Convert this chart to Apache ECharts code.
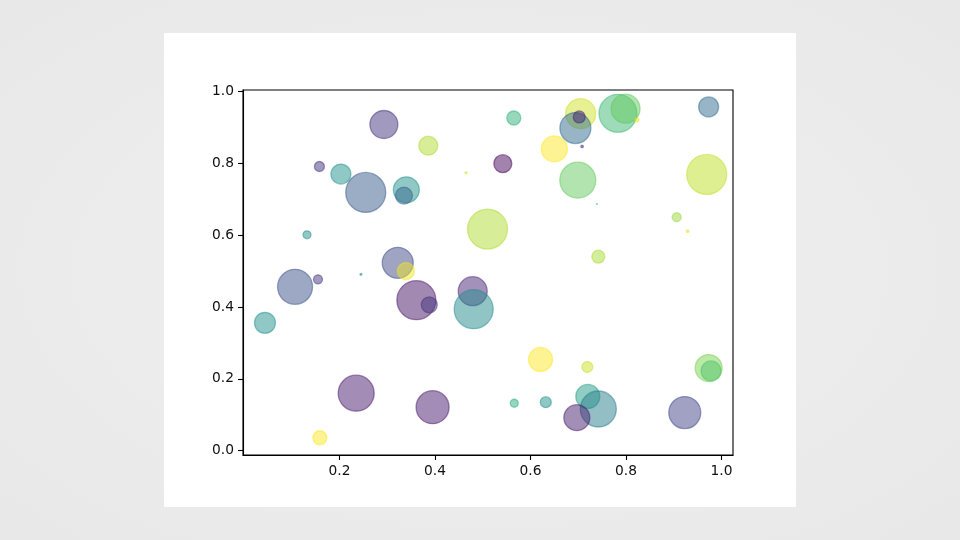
<!DOCTYPE html>
<html>
<head>
<meta charset="utf-8">
<script src="https://cdn.jsdelivr.net/npm/echarts@6/dist/echarts.min.js"></script>
<style>
  html, body { margin: 0; padding: 0; width: 960px; height: 540px; overflow: hidden;
    background: #ececec; }
  #bg { position: absolute; left: 0; top: 0; width: 960px; height: 540px;
    background: radial-gradient(ellipse at center, #f0f0f0 0%, #e8e8e8 100%); }
  #panel { position: absolute; left: 164px; top: 33px; width: 632px; height: 474px; background: #ffffff; }
  #chart { width: 632px; height: 474px; }
</style>
</head>
<body>
<div id="bg"></div>
<div id="panel"><div id="chart"></div></div>
<script>
// Data
const xs = [0.293, 0.386, 0.158, 0.203, 0.255, 0.340, 0.335, 0.465, 0.510, 0.132,
            0.322, 0.339, 0.107, 0.155, 0.245, 0.565, 0.705, 0.694, 0.702, 0.708,
            0.650, 0.542, 0.699, 0.783, 0.799, 0.823, 0.973, 0.969, 0.739, 0.906,
            0.929, 0.742, 0.044, 0.361, 0.388, 0.479, 0.481, 0.235, 0.395, 0.159,
            0.621, 0.719, 0.566, 0.632, 0.720, 0.742, 0.697, 0.923, 0.973, 0.978];
const ys = [0.908, 0.849, 0.791, 0.770, 0.719, 0.726, 0.710, 0.774, 0.617, 0.601,
            0.523, 0.500, 0.456, 0.477, 0.491, 0.926, 0.938, 0.898, 0.929, 0.847,
            0.840, 0.799, 0.753, 0.939, 0.952, 0.921, 0.957, 0.769, 0.687, 0.650,
            0.611, 0.540, 0.356, 0.419, 0.406, 0.444, 0.394, 0.160, 0.121, 0.036,
            0.254, 0.233, 0.132, 0.135, 0.151, 0.116, 0.092, 0.106, 0.230, 0.222];
const sizes = [29, 20, 11, 21, 41, 27, 18, 3, 41, 9,
               32, 18, 36, 10, 3, 15, 31, 32, 13, 3.5,
               27, 19, 37, 39, 30, 5, 21, 41, 2, 10,
               3.5, 14, 22, 40, 17, 30, 40, 37, 34, 15,
               25, 12, 9, 12, 25, 37, 27, 33, 28, 21];
const colorVals = [0.15, 0.88, 0.15, 0.50, 0.28, 0.50, 0.32, 0.95, 0.88, 0.50,
                   0.22, 0.98, 0.25, 0.15, 0.50, 0.64, 0.93, 0.35, 0.10, 0.15,
                   1.00, 0.02, 0.76, 0.68, 0.76, 0.97, 0.35, 0.90, 0.70, 0.85,
                   0.97, 0.87, 0.50, 0.05, 0.15, 0.10, 0.48, 0.07, 0.07, 1.00,
                   1.00, 0.92, 0.62, 0.50, 0.55, 0.42, 0.08, 0.20, 0.80, 0.72];
const xTicks = [0.2, 0.4, 0.6, 0.8, 1.0];
const yTicks = [0.0, 0.2, 0.4, 0.6, 0.8, 1.0];

// viridis colormap stops
const viridis = ['#440154','#482475','#414487','#355f8d','#2a788e','#21918c',
                 '#22a884','#44bf70','#7ad151','#bddf26','#fde725'];
function hex2rgb(h){ return [parseInt(h.substr(1,2),16), parseInt(h.substr(3,2),16), parseInt(h.substr(5,2),16)]; }
function cmap(v){
  v = Math.max(0, Math.min(1, v));
  const p = v * (viridis.length - 1);
  const i = Math.min(Math.floor(p), viridis.length - 2);
  const t = p - i;
  const a = hex2rgb(viridis[i]), b = hex2rgb(viridis[i+1]);
  const c = a.map((x, k) => Math.round(x + (b[k]-x)*t));
  return 'rgb(' + c.join(',') + ')';
}

const data = xs.map((x, i) => ({
  value: [x, ys[i], sizes[i]],
  itemStyle: { color: cmap(colorVals[i]), borderColor: cmap(colorVals[i]) }
}));

const chart = echarts.init(document.getElementById('chart'), null, { renderer: 'canvas' });
const labelStyle = { color: '#111', fontFamily: 'DejaVu Sans', fontSize: 13.8 };
chart.setOption({
  animation: false,
  backgroundColor: '#ffffff',
  grid: { left: 79, top: 57, width: 490, height: 365, show: true,
          borderColor: '#000', borderWidth: 1.1, backgroundColor: '#fff' },
  xAxis: {
    type: 'value', min: -0.002, max: 1.024,
    axisLine: { show: true, onZero: false, lineStyle: { color: '#000', width: 1.1 } },
    axisTick: { show: true, length: 5, customValues: xTicks, lineStyle: { color: '#000', width: 1.1 } },
    axisLabel: Object.assign({ margin: 9, customValues: xTicks, formatter: v => v.toFixed(1) }, labelStyle),
    splitLine: { show: false }
  },
  yAxis: {
    type: 'value', min: -0.012, max: 1.004,
    axisLine: { show: true, onZero: false, lineStyle: { color: '#000', width: 1.1 } },
    axisTick: { show: true, length: 5, customValues: yTicks, lineStyle: { color: '#000', width: 1.1 } },
    axisLabel: Object.assign({ margin: 9, customValues: yTicks, formatter: v => v.toFixed(1) }, labelStyle),
    splitLine: { show: false }
  },
  series: [{
    type: 'scatter',
    data: data,
    symbol: 'circle',
    symbolSize: d => Math.max(1, d[2] - 1),
    itemStyle: { opacity: 0.5, borderWidth: 1.3 },
    emphasis: { disabled: true }
  }]
});
</script>
</body>
</html>
